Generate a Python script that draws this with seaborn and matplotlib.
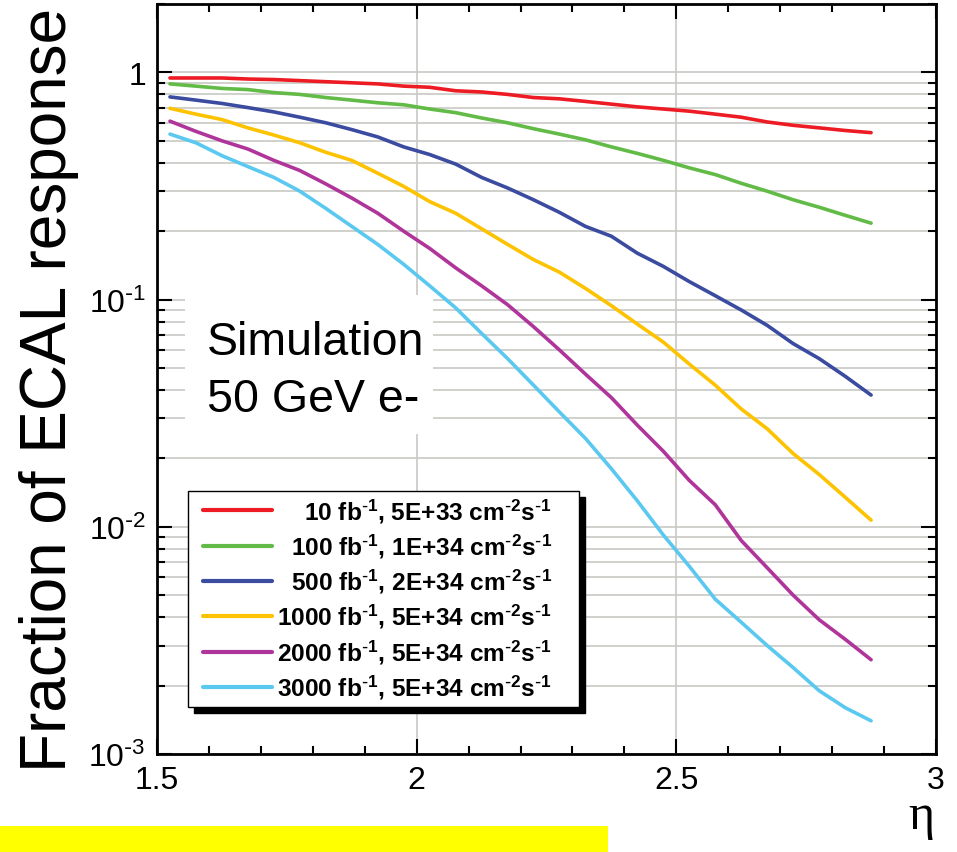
import numpy as np
import seaborn as sns
import matplotlib.pyplot as plt
from matplotlib.patches import Rectangle
from matplotlib.ticker import LogLocator, MultipleLocator, FuncFormatter, NullFormatter

# valeurs (centres de bins en eta)
eta = [1.525, 1.575, 1.625, 1.675, 1.725, 1.775, 1.825, 1.875, 1.925, 1.975,
       2.025, 2.075, 2.125, 2.175, 2.225, 2.275, 2.325, 2.375, 2.425, 2.475,
       2.525, 2.575, 2.625, 2.675, 2.725, 2.775, 2.825, 2.875]

lumi_10 = [0.945, 0.945, 0.945, 0.935, 0.93, 0.92, 0.91, 0.90, 0.89, 0.87,
           0.86, 0.83, 0.82, 0.80, 0.775, 0.765, 0.745, 0.725, 0.705, 0.69,
           0.675, 0.655, 0.635, 0.605, 0.585, 0.57, 0.555, 0.543]
lumi_100 = [0.89, 0.87, 0.85, 0.84, 0.815, 0.80, 0.775, 0.755, 0.735, 0.72,
            0.69, 0.665, 0.63, 0.60, 0.565, 0.535, 0.505, 0.47, 0.44, 0.41,
            0.38, 0.355, 0.325, 0.30, 0.275, 0.255, 0.235, 0.217]
lumi_500 = [0.78, 0.755, 0.73, 0.70, 0.67, 0.635, 0.60, 0.56, 0.52, 0.47,
            0.435, 0.395, 0.345, 0.31, 0.275, 0.242, 0.21, 0.19, 0.16, 0.14,
            0.12, 0.104, 0.09, 0.077, 0.064, 0.055, 0.046, 0.038]
lumi_1000 = [0.695, 0.655, 0.62, 0.57, 0.53, 0.49, 0.445, 0.41, 0.36, 0.315,
             0.27, 0.24, 0.205, 0.175, 0.15, 0.132, 0.112, 0.094, 0.078, 0.065,
             0.052, 0.042, 0.033, 0.027, 0.021, 0.017, 0.0135, 0.0107]
lumi_2000 = [0.61, 0.55, 0.50, 0.46, 0.41, 0.37, 0.323, 0.28, 0.24, 0.20,
             0.168, 0.138, 0.115, 0.095, 0.076, 0.06, 0.047, 0.037, 0.028, 0.0215,
             0.016, 0.0125, 0.0087, 0.0066, 0.005, 0.0039, 0.0032, 0.0026]
lumi_3000 = [0.535, 0.49, 0.43, 0.385, 0.345, 0.30, 0.252, 0.21, 0.175, 0.143,
             0.115, 0.092, 0.071, 0.055, 0.042, 0.032, 0.0245, 0.018, 0.013, 0.0092,
             0.0067, 0.0048, 0.0038, 0.0030, 0.0024, 0.0019, 0.0016, 0.0014]

series = [lumi_10, lumi_100, lumi_500, lumi_1000, lumi_2000, lumi_3000]
labels = [r'10 fb$^{\text{-}1}$, 5E+33 cm$^{\text{-}2}$s$^{\text{-}1}$    ',
          r'100 fb$^{\text{-}1}$, 1E+34 cm$^{\text{-}2}$s$^{\text{-}1}$    ',
          r'500 fb$^{\text{-}1}$, 2E+34 cm$^{\text{-}2}$s$^{\text{-}1}$    ',
          r'1000 fb$^{\text{-}1}$, 5E+34 cm$^{\text{-}2}$s$^{\text{-}1}$    ',
          r'2000 fb$^{\text{-}1}$, 5E+34 cm$^{\text{-}2}$s$^{\text{-}1}$    ',
          r'3000 fb$^{\text{-}1}$, 5E+34 cm$^{\text{-}2}$s$^{\text{-}1}$    ']
colors = ['#ed1c24', '#62bb46', '#3a4ba0', '#fdc300', '#b0359a', '#5bc8f0']

sns.set_theme(style="ticks")
plt.rcParams['font.family'] = ['Liberation Sans', 'DejaVu Sans']
plt.rcParams['mathtext.default'] = 'regular'
plt.rcParams['text.color'] = 'black'
plt.rcParams['axes.labelcolor'] = 'black'

fig = plt.figure(figsize=(9.57, 8.53), dpi=100)
ax = fig.add_axes([157 / 957, 1 - 755 / 853, 779 / 957, 750 / 853])

for vals, col in zip(series, colors):
    sns.lineplot(x=eta, y=vals, color=col, linewidth=2.6, errorbar=None, ax=ax)

ax.set_yscale('log')
ax.set_xlim(1.5, 3)
ax.set_ylim(1e-3, 2)

ax.xaxis.set_major_locator(MultipleLocator(0.5))
ax.xaxis.set_minor_locator(MultipleLocator(0.1))
ax.xaxis.set_major_formatter(FuncFormatter(lambda v, _: f'{v:g}'))
ax.yaxis.set_major_locator(LogLocator(10))
ax.yaxis.set_minor_locator(LogLocator(10, subs=range(2, 10)))
ax.yaxis.set_minor_formatter(NullFormatter())


def ylab(v, _):
    if abs(v - 1) < 1e-9:
        return '1'
    n = int(round(np.log10(v)))
    return rf'$10^{{\text{{-}}{abs(n)}}}$'


ax.yaxis.set_major_formatter(FuncFormatter(ylab))

ax.tick_params(which='both', direction='in', top=True, right=True,
               labelsize=23, colors='black', width=1.5)
ax.tick_params(which='major', length=11, pad=8)
ax.tick_params(which='minor', length=5.5)
for sp in ax.spines.values():
    sp.set_linewidth(2)
    sp.set_color('black')

ax.set_axisbelow(True)
ax.grid(which='major', axis='x', color='#c8c8c4', linewidth=1.2)
ax.grid(which='both', axis='y', color='#c8c8c4', linewidth=1.2)

ax.set_ylabel('Fraction of ECAL response', fontsize=46)
ax.yaxis.set_label_coords(-0.10, 0.487)
ax.set_xlabel('η', fontsize=36, family=['Liberation Serif', 'DejaVu Serif'])
ax.xaxis.set_label_coords(0.981, -0.052)

# cadre blanc derriere le texte
ax.add_patch(Rectangle((0.036, 0.427), 0.318, 0.185, transform=ax.transAxes,
                       facecolor='white', edgecolor='none', zorder=1))
ax.text(0.064, 0.533, 'Simulation', fontsize=33.5, transform=ax.transAxes, va='baseline')
ax.text(0.064, 0.457, '50 GeV e-', fontsize=33.5, transform=ax.transAxes, va='baseline')

fs = 17.6
pad_px = 9.5  # blanc a gauche des traits de legende
leg = ax.legend(handles=ax.lines, labels=labels, loc='upper left',
                bbox_to_anchor=(0.040, 0.351), borderaxespad=0,
                prop=dict(family='Liberation Sans', weight='bold', size=fs),
                handlelength=(69 + pad_px) / (fs * 100 / 72), handletextpad=0.2,
                labelspacing=0.29, borderpad=0.23, fancybox=False, framealpha=1,
                edgecolor='black',
                shadow={'color': 'black', 'alpha': 1, 'ox': 4, 'oy': -4.5})
leg.get_frame().set_linewidth(1.0)
for line in leg.get_lines():
    line.set_linewidth(3)
    xd = np.asarray(line.get_xdata(), dtype=float)
    line.set_xdata(np.linspace(xd[0] + pad_px * 72 / 100, xd[-1], len(xd)))

# bande jaune en bas
fig.add_artist(Rectangle((0, 0), 608 / 957, 26 / 853, transform=fig.transFigure,
                         facecolor='#ffff00', edgecolor='none'))

# textes de la legende alignes a droite
fig.canvas.draw()
r = fig.canvas.get_renderer()
widths = [t.get_window_extent(r).width for t in leg.get_texts()]
for t, w in zip(leg.get_texts(), widths):
    t.set_x(max(widths) - w)

fig.savefig('out.png', dpi=100)
